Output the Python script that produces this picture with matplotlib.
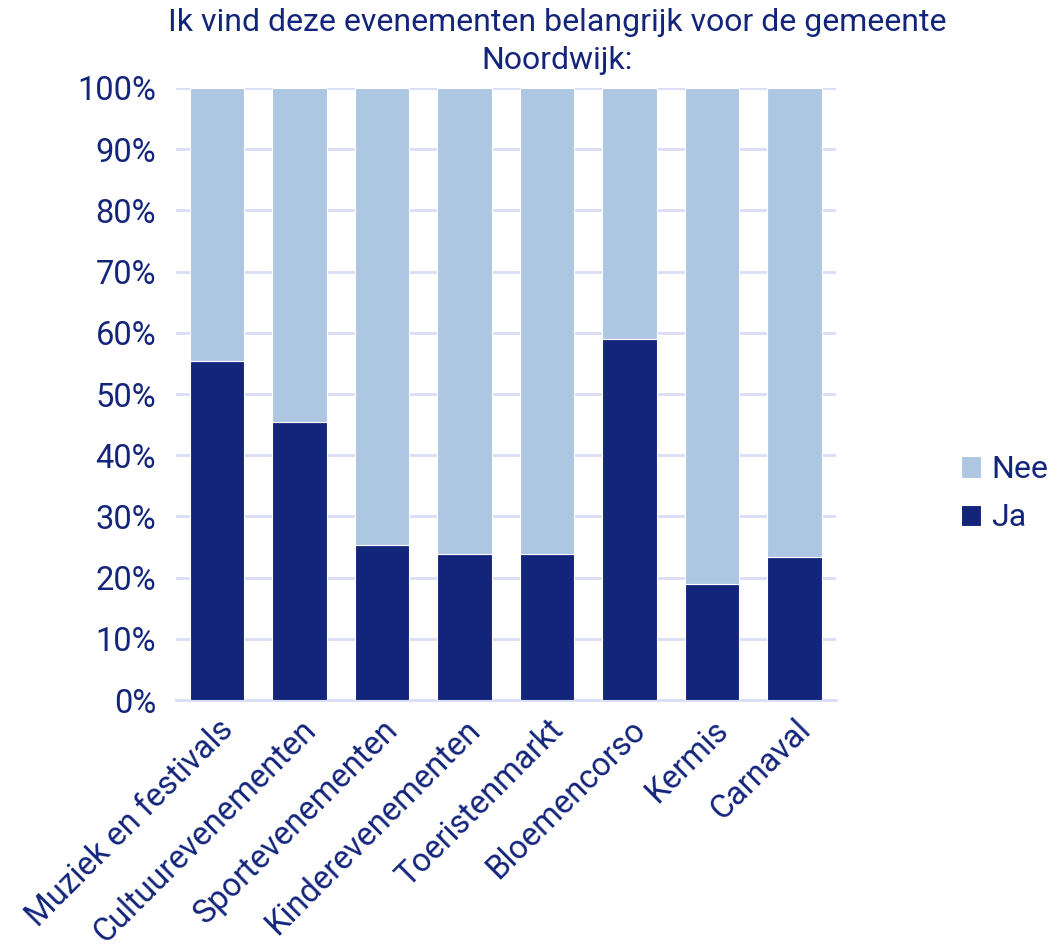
import matplotlib.pyplot as plt
from matplotlib.ticker import PercentFormatter

plt.rcParams['font.family'] = ['Roboto', 'DejaVu Sans']

NAVY = '#13257a'
LIGHT = '#adc7e2'
GRID = '#d9ddf5'

categories = ['Muziek en festivals', 'Cultuurevenementen', 'Sportevenementen',
              'Kinderevenementen', 'Toeristenmarkt', 'Bloemencorso', 'Kermis', 'Carnaval']
ja = [55.4, 45.4, 25.3, 23.8, 23.8, 59.0, 19.0, 23.4]
nee = [100 - v for v in ja]


def plot_chart():
    fig = plt.figure(figsize=(10.58, 9.46), dpi=100)
    ax = fig.add_axes([0.166, 0.26, 0.624, 0.647])
    x = range(len(categories))
    ax.bar(x, ja, width=0.66, color=NAVY, edgecolor='white', linewidth=0.8, label='Ja', zorder=3)
    ax.bar(x, nee, bottom=ja, width=0.66, color=LIGHT, edgecolor='white', linewidth=0.8,
           label='Nee', zorder=3)

    ax.set_xlim(-0.5, len(categories) - 0.5)
    ax.set_ylim(0, 100)
    ax.set_yticks(range(0, 101, 10))
    ax.yaxis.set_major_formatter(PercentFormatter(decimals=0))
    ax.grid(axis='y', color=GRID, linewidth=2, zorder=0)
    for s in ['top', 'right', 'left']:
        ax.spines[s].set_visible(False)
    ax.spines['bottom'].set_color(GRID)
    ax.spines['bottom'].set_linewidth(2)
    ax.tick_params(length=0, colors=NAVY, labelsize=23.5)
    ax.tick_params(axis='y', pad=14)
    ax.set_xticks(list(x))
    ax.set_xticklabels(categories, rotation=45, ha='right', rotation_mode='anchor',
                       fontsize=23.5, color=NAVY)
    ax.tick_params(axis='x', pad=10)

    fig.text(0.527, 0.992, 'Ik vind deze evenementen belangrijk voor de gemeente\nNoordwijk:',
             ha='center', va='top', fontsize=23, color=NAVY, linespacing=1.4)

    handles, labels = ax.get_legend_handles_labels()
    fig.legend(handles[::-1], labels[::-1], loc='center left',
               bbox_to_anchor=(0.908, 0.478), frameon=False, fontsize=23,
               borderpad=0, borderaxespad=0,
               handlelength=0.65, handleheight=0.65, handletextpad=0.3,
               labelspacing=0.6, labelcolor=NAVY)
    fig.savefig('out.png', dpi=100)


if __name__ == '__main__':
    plot_chart()
